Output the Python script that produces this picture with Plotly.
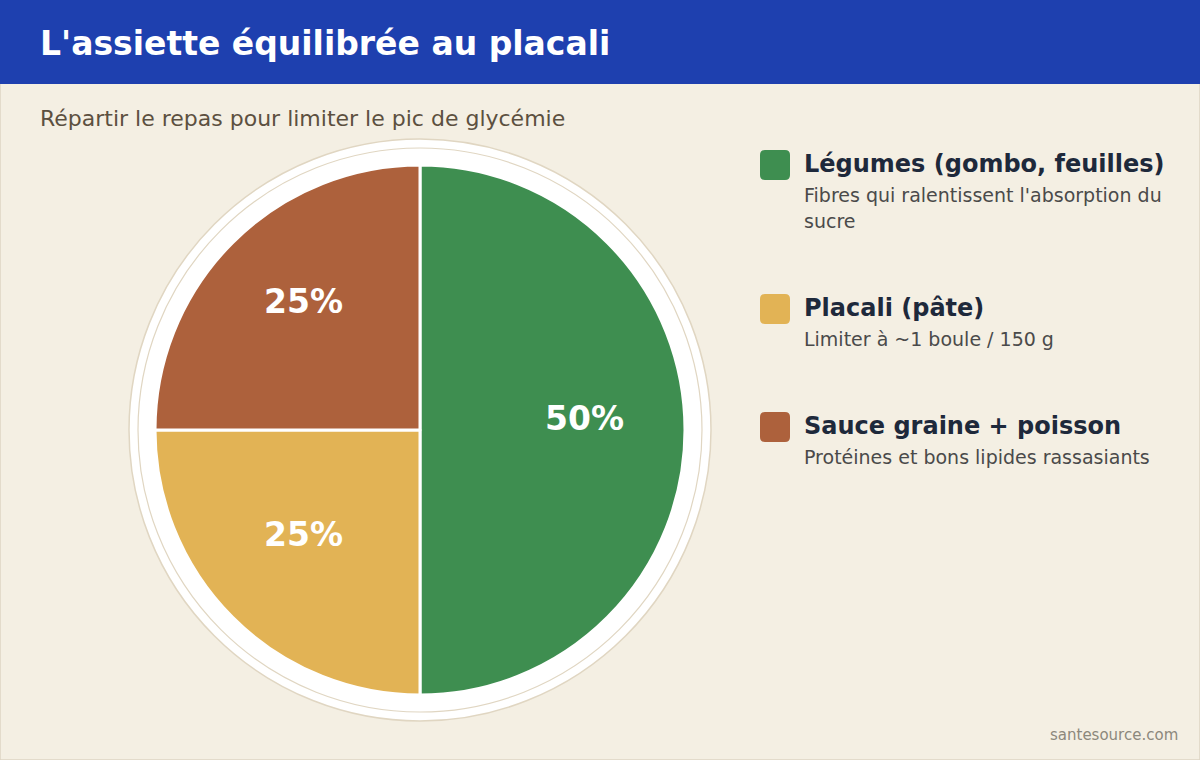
import math
import plotly.graph_objects as go

# ---- data ----
categories = ["Légumes (gombo, feuilles)", "Placali (pâte)", "Sauce graine + poisson"]
shares = [50, 25, 25]
colors = ["#3e8e50", "#e2b355", "#ad613c"]
descriptions = [
    "Fibres qui ralentissent l'absorption du\nsucre",
    "Limiter à ~1 boule / 150 g",
    "Protéines et bons lipides rassasiants",
]
title_text = "L'assiette équilibrée au placali"
subtitle_text = "Répartir le repas pour limiter le pic de glycémie"
source_text = "santesource.com"

W, H = 1200, 760
FONT = "DejaVu Sans"
BG = "#f4efe3"


def px(x):
    return x / W


def py(y):
    return 1 - y / H


cx, cy, r = 420, 430, 265

fig = go.Figure()
fig.add_trace(go.Pie(
    labels=categories,
    values=shares,
    marker=dict(colors=colors, line=dict(color="white", width=3)),
    sort=False,
    direction="clockwise",
    rotation=0,
    textinfo="none",
    showlegend=False,
    hoverinfo="label+percent",
    domain=dict(x=[px(cx - r), px(cx + r)], y=[py(cy + r), py(cy - r)]),
))

shapes = []
# page border
shapes.append(dict(type="rect", xref="paper", yref="paper", x0=0, x1=1, y0=0, y1=1,
                   line=dict(color="#ddd5c4", width=1.5), fillcolor=BG, layer="below"))
# title bar
shapes.append(dict(type="rect", xref="paper", yref="paper", x0=0, x1=1, y0=py(84), y1=1,
                   line=dict(width=0), fillcolor="#1e40af", layer="below"))
# plate
R1, R2 = 291, 282
shapes.append(dict(type="circle", xref="paper", yref="paper",
                   x0=px(cx - R1), x1=px(cx + R1), y0=py(cy + R1), y1=py(cy - R1),
                   line=dict(color="#e0d6c2", width=1.5), fillcolor="white", layer="below"))
shapes.append(dict(type="circle", xref="paper", yref="paper",
                   x0=px(cx - R2), x1=px(cx + R2), y0=py(cy + R2), y1=py(cy - R2),
                   line=dict(color="#e0d6c2", width=1.2), fillcolor="rgba(0,0,0,0)", layer="below"))

annotations = [
    dict(text=f"<b>{title_text}</b>", x=px(38), y=py(43), xref="paper", yref="paper",
         xanchor="left", yanchor="middle", showarrow=False,
         font=dict(family=FONT, size=33, color="white")),
    dict(text=subtitle_text, x=px(38), y=py(119), xref="paper", yref="paper",
         xanchor="left", yanchor="middle", showarrow=False,
         font=dict(family=FONT, size=22, color="#5c5040")),
    dict(text=source_text, x=px(1180), y=py(735), xref="paper", yref="paper",
         xanchor="right", yanchor="middle", showarrow=False,
         font=dict(family=FONT, size=15, color="#8c887c")),
]

# percentage labels placed along each slice's bisector (from the data)
total = sum(shares)
cum = 0
for v in shares:
    mid = (cum + v / 2) / total * 2 * math.pi
    cum += v
    d = 0.62 * r
    lx = cx + d * math.sin(mid)
    ly = cy - d * math.cos(mid) - 12
    annotations.append(dict(text=f"<b>{round(v / total * 100)}%</b>", x=px(lx), y=py(ly),
                            xref="paper", yref="paper", xanchor="center", yanchor="middle",
                            showarrow=False, font=dict(family=FONT, size=33, color="white")))

item_y = [165, 309, 427]
sw = 30
for name, desc, col, yc in zip(categories, descriptions, colors, item_y):
    x0, x1 = 760, 760 + sw
    y0, y1 = yc - sw / 2, yc + sw / 2
    rr = 5
    path = (f"M {px(x0 + rr)} {py(y0)} L {px(x1 - rr)} {py(y0)} "
            f"Q {px(x1)} {py(y0)} {px(x1)} {py(y0 + rr)} L {px(x1)} {py(y1 - rr)} "
            f"Q {px(x1)} {py(y1)} {px(x1 - rr)} {py(y1)} L {px(x0 + rr)} {py(y1)} "
            f"Q {px(x0)} {py(y1)} {px(x0)} {py(y1 - rr)} L {px(x0)} {py(y0 + rr)} "
            f"Q {px(x0)} {py(y0)} {px(x0 + rr)} {py(y0)} Z")
    shapes.append(dict(type="path", xref="paper", yref="paper", path=path,
                       fillcolor=col, line=dict(width=0)))
    annotations.append(dict(text=f"<b>{name}</b>", x=px(802), y=py(yc - 1), xref="paper", yref="paper",
                            xanchor="left", yanchor="middle", showarrow=False,
                            font=dict(family=FONT, size=24, color="#1e293b")))
    for i, line in enumerate(desc.split("\n")):
        annotations.append(dict(text=line, x=px(802), y=py(yc + 30 + 26 * i), xref="paper", yref="paper",
                                xanchor="left", yanchor="middle", showarrow=False,
                                font=dict(family=FONT, size=19, color="#4a4a4a")))

fig.update_layout(
    width=W, height=H,
    margin=dict(l=0, r=0, t=0, b=0),
    paper_bgcolor=BG,
    plot_bgcolor=BG,
    shapes=shapes,
    annotations=annotations,
)

fig.write_html("out.html", config={"displayModeBar": False})
